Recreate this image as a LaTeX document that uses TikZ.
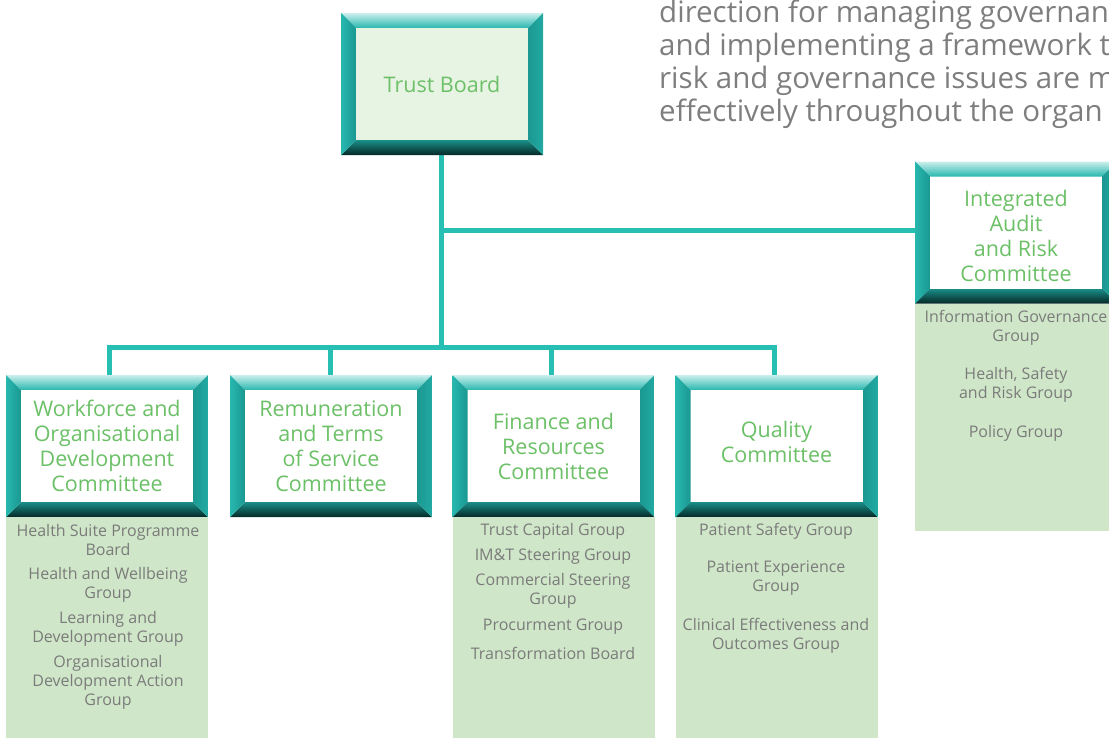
\documentclass[tikz,border=0pt]{standalone}
\usepackage{fontspec}
\setmainfont{Open Sans}
\usetikzlibrary{calc,backgrounds}

\definecolor{linkteal}{HTML}{27BFB4}
\definecolor{bevlight}{HTML}{CBEFEC}
\definecolor{bevteal}{HTML}{27B7AF}
\definecolor{bevside}{HTML}{22AAA3}
\definecolor{bevsidein}{HTML}{1A9891}
\definecolor{bevmid}{HTML}{1A8F89}
\definecolor{bevdark}{HTML}{052927}
\definecolor{titlegreen}{HTML}{6CC067}
\definecolor{subgreen}{HTML}{CFE7C8}
\definecolor{trustfill}{HTML}{E7F3E3}
\definecolor{subgray}{HTML}{7B7B7B}
\definecolor{paragray}{HTML}{7E7E7E}

\tikzset{
  bevelframe/.style={rectangle, minimum width=202pt, minimum height=142pt,
    inner sep=0pt, outer sep=0pt,
    path picture={
      \coordinate (nw) at (path picture bounding box.north west);
      \coordinate (ne) at (path picture bounding box.north east);
      \coordinate (sw) at (path picture bounding box.south west);
      \coordinate (se) at (path picture bounding box.south east);
      % top bevel
      \shade[top color=bevlight, bottom color=bevteal]
        (nw) -- (ne) -- ($(ne)+(-15pt,-15pt)$) -- ($(nw)+(15pt,-15pt)$) -- cycle;
      % bottom bevel
      \shade[top color=bevmid, bottom color=bevdark]
        (sw) -- (se) -- ($(se)+(-15pt,15pt)$) -- ($(sw)+(15pt,15pt)$) -- cycle;
      % side bevels
      \shade[left color=bevteal, right color=bevsidein]
        (nw) -- ($(nw)+(15pt,-15pt)$) -- ($(sw)+(15pt,15pt)$) -- (sw) -- cycle;
      \shade[left color=bevsidein, right color=bevside]
        (ne) -- ($(ne)+(-15pt,-15pt)$) -- ($(se)+(-15pt,15pt)$) -- (se) -- cycle;
    }},
  panel/.style={rectangle, fill=white, minimum width=172pt, minimum height=112pt,
    inner sep=0pt, align=center, text=titlegreen,
    font=\fontsize{21.5}{25}\selectfont},
  title/.style={align=center, text=titlegreen, inner sep=0pt,
    font=\fontsize{21.5}{25}\selectfont},
  subpanel/.style={rectangle, fill=subgreen, minimum width=202pt, inner sep=0pt,
    outer sep=0pt, anchor=north},
  item/.style={align=center, text=subgray, inner sep=0pt,
    font=\fontsize{16}{19}\selectfont},
  para/.style={anchor=base west, inner sep=0pt, text=paragray,
    font=\fontsize{29.5}{33}\selectfont},
  conn/.style={draw=linkteal, line width=5pt}
}

\begin{document}
\begin{tikzpicture}[x=1pt,y=-1pt]
\useasboundingbox (0,0) rectangle (1109,737);
\clip (0,0) rectangle (1109,737);

% introductory paragraph
\node[para] (p1) at (659,22.5) {direction for managing governan};
\node[para] (p2) at (659,55.5) {and implementing a framework t};
\node[para] (p3) at (659,88.5) {risk and governance issues are ma};
\node[para] (p4) at (659,121.5) {effectively throughout the organ};

% committee frames
\node[bevelframe] (trust) at (442,84) {};
\node[panel, fill=trustfill] (trust-in) at (trust.center) {Trust Board};

\node[bevelframe] (audit) at (1016,232.5) {};
\node[panel] (audit-in) at (audit.center) {};
\node[title] (audit-txt) at ([yshift=-3pt]audit.center)
  {Integrated\\Audit\\and Risk\\Committee};

\node[bevelframe] (wod) at (107,446) {};
\node[panel] (wod-in) at (wod.center) {Workforce and\\Organisational\\Development\\Committee};

\node[bevelframe] (rem) at (331,446) {};
\node[panel] (rem-in) at (rem.center) {Remuneration\\and Terms\\of Service\\Committee};

\node[bevelframe] (fin) at (553.5,446) {};
\node[panel] (fin-in) at (fin.center) {Finance and\\Resources\\Committee};

\node[bevelframe] (qual) at (776.5,446) {};
\node[panel] (qual-in) at (qual.center) {};
\node[title] (qual-txt) at ([yshift=4pt]qual.center) {Quality\\Committee};

% sub-group panels
\node[subpanel, minimum height=227pt] (audit-sub) at (audit.south) {};
\node[subpanel, minimum height=225pt] (wod-sub) at (wod.south) {};
\node[subpanel, minimum height=225pt] (fin-sub) at (fin.south) {};
\node[subpanel, minimum height=225pt] (qual-sub) at (qual.south) {};

\node[item] (a1) at (1016,327.5) {Information Governance\\Group};
\node[item] (a2) at (1016,385) {Health, Safety\\and Risk Group};
\node[item] (a3) at (1016,433) {Policy Group};

\node[item] (w1) at (108,539.5) {Health Suite Programme\\Board};
\node[item] (w2) at (108,584.5) {Health and Wellbeing\\Group};
\node[item] (w3) at (108,629) {Learning and\\Development Group};
\node[item] (w4) at (108,682.5) {Organisational\\Development Action\\Group};

\node[item] (f1) at (553,531) {Trust Capital Group};
\node[item] (f2) at (553,557) {IM\&T Steering Group};
\node[item] (f3) at (553,591) {Commercial Steering\\Group};
\node[item] (f4) at (553,627) {Procurment Group};
\node[item] (f5) at (553,653) {Transformation Board};

\node[item] (q1) at (776,531) {Patient Safety Group};
\node[item] (q2) at (776,578.5) {Patient Experience\\Group};
\node[item] (q3) at (776,636) {Clinical Effectiveness and\\Outcomes Group};

% connectors
\coordinate (busmid) at (441,347);
\coordinate (auditjoin) at (441,230);
\coordinate (wodtop) at ([xshift=2pt]wod.north);
\coordinate (remtop) at ([xshift=-1pt]rem.north);
\coordinate (fintop) at ([xshift=-2.5pt]fin.north);
\coordinate (qualtop) at ([xshift=-2.5pt]qual.north);
\begin{scope}[on background layer]
  \draw[conn] (trust.south -| busmid) -- (busmid);
  \draw[conn] (auditjoin) -- (auditjoin -| audit.west);
  \draw[conn] (wodtop) |- (busmid -| qualtop) -- (qualtop);
  \draw[conn] (remtop) -- (remtop |- busmid);
  \draw[conn] (fintop) -- (fintop |- busmid);
\end{scope}
\end{tikzpicture}
\end{document}
